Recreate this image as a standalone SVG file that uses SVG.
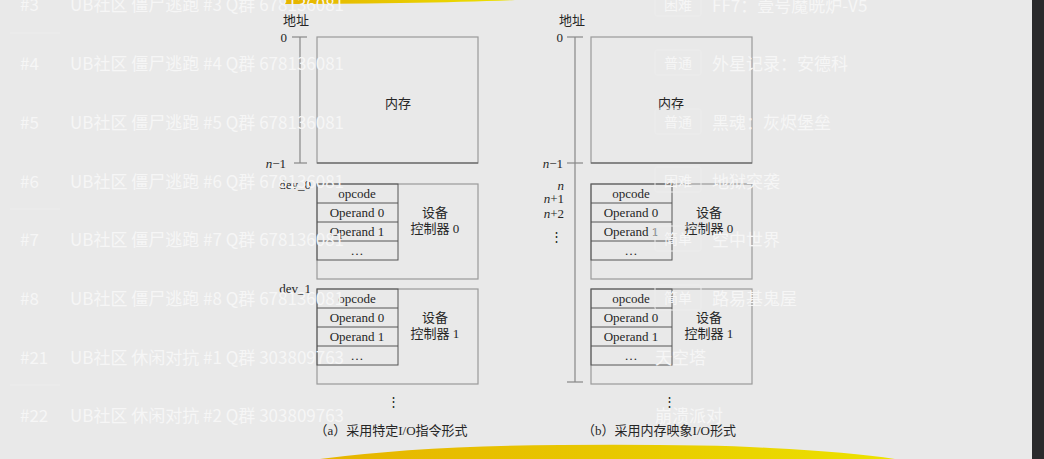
<svg xmlns="http://www.w3.org/2000/svg" width="1044" height="459" viewBox="0 0 1044 459">
<defs>
<style>
.t{font-family:"Liberation Serif","Noto Sans CJK SC",serif;font-size:13px;fill:#262626;dominant-baseline:central;text-anchor:middle}
.r{text-anchor:end}
.box{fill:none;stroke:#9a9a9a;stroke-width:1.2}
.reg{fill:none;stroke:#555;stroke-width:1}
.ax{stroke:#888;stroke-width:1.2;fill:none}
.ov{font-family:"Noto Sans CJK SC","Noto Sans",sans-serif;font-size:17px;fill:#f6f6f6;dominant-baseline:central}
.tag{font-family:"Noto Sans CJK SC","Noto Sans",sans-serif;font-size:14px;fill:#f6f6f6;dominant-baseline:central}
.tb{fill:none;stroke:#ededed;stroke-width:1}
</style>
<linearGradient id="yb" x1="0" x2="1" y1="0" y2="0">
<stop offset="0" stop-color="#e6b400"/>
<stop offset="0.5" stop-color="#e8c800"/>
<stop offset="1" stop-color="#ece200"/>
</linearGradient>
<g id="ctl">
<rect class="box" x="0" y="0" width="161" height="95"/>
<rect class="reg" x="0" y="0" width="81" height="76"/>
<line class="reg" x1="0" y1="19" x2="81" y2="19"/>
<line class="reg" x1="0" y1="38" x2="81" y2="38"/>
<line class="reg" x1="0" y1="57" x2="81" y2="57"/>
<text class="t" x="40" y="9.5">opcode</text>
<text class="t" x="40" y="28.5">Operand 0</text>
<text class="t" x="40" y="47">Operand 1</text>
<text class="t" x="40" y="66">…</text>
<text class="t" x="118" y="28.5">设备</text>
</g>
</defs>
<rect width="1044" height="459" fill="#e9e9e9"/>
<rect x="1032" y="0" width="12" height="459" fill="#2a2a2c"/>
<path d="M285,0 L515,0 Q470,2 400,3 Q330,4 285,4 Z" fill="url(#yb)"/>
<path d="M320,459 Q420,446 560,445 Q700,444 770,448 Q850,452 895,459 Z" fill="url(#yb)"/>

<g id="connectors">
<line class="ax" x1="292" y1="37" x2="307" y2="37"/>
<line class="ax" x1="300" y1="37" x2="300" y2="163"/>
<line class="ax" x1="294" y1="163" x2="307" y2="163"/>
<line class="ax" x1="567" y1="37" x2="583" y2="37"/>
<line class="ax" x1="575" y1="37" x2="575" y2="382"/>
<line class="ax" x1="567" y1="163" x2="583" y2="163"/>
<line class="ax" x1="567" y1="382" x2="583" y2="382"/>
</g>

<g id="diagram-a">
<text class="t" x="296" y="20">地址</text>
<text class="t r" x="287" y="37">0</text>
<text class="t r" x="286" y="163"><tspan font-style="italic">n</tspan>−1</text>
<g id="mem-a">
<rect class="box" x="317" y="37" width="161" height="126"/>
<line x1="317" y1="163" x2="478" y2="163" stroke="#555" stroke-width="1.2"/>
<text class="t" x="398" y="103">内存</text>
</g>
<text class="t r" x="311" y="184">dev_0</text>
<g id="ctl-a0">
<use href="#ctl" x="317" y="184"/>
<text class="t" x="435" y="228">控制器 0</text>
</g>
<text class="t r" x="311" y="288">dev_1</text>
<g id="ctl-a1">
<use href="#ctl" x="317" y="289"/>
<text class="t" x="435" y="333">控制器 1</text>
</g>
<text class="t" x="393" y="401">⋮</text>
<text class="t" x="391" y="430">（a）采用特定I/O指令形式</text>
</g>

<g id="diagram-b">
<text class="t" x="572" y="20">地址</text>
<text class="t r" x="563" y="37">0</text>
<text class="t r" x="563" y="163"><tspan font-style="italic">n</tspan>−1</text>
<text class="t r" x="564" y="185" font-size="12"><tspan font-style="italic">n</tspan></text>
<text class="t r" x="564" y="198" font-size="12"><tspan font-style="italic">n</tspan>+1</text>
<text class="t r" x="564" y="213" font-size="12"><tspan font-style="italic">n</tspan>+2</text>
<text class="t" x="556" y="236">⋮</text>
<g id="mem-b">
<rect class="box" x="591" y="37" width="161" height="126"/>
<line x1="591" y1="163" x2="752" y2="163" stroke="#555" stroke-width="1.2"/>
<text class="t" x="671" y="103">内存</text>
</g>
<g id="ctl-b0">
<use href="#ctl" x="591" y="184"/>
<text class="t" x="709" y="228">控制器 0</text>
</g>
<g id="ctl-b1">
<use href="#ctl" x="591" y="289"/>
<text class="t" x="709" y="333">控制器 1</text>
</g>
<text class="t" x="669" y="401">⋮</text>
<text class="t" x="659" y="430">（b）采用内存映象I/O形式</text>
</g>

<g id="overlay">
<line x1="10" y1="33" x2="60" y2="33" stroke="#ededed"/>
<line x1="10" y1="209" x2="60" y2="209" stroke="#ededed"/>
<line x1="10" y1="385" x2="60" y2="385" stroke="#ededed"/>
<text class="ov" x="20" y="3">#3</text><text class="ov" x="70" y="3">UB社区 僵尸逃跑 #3 Q群 678136081</text>
<text class="ov" x="20" y="62">#4</text><text class="ov" x="70" y="62">UB社区 僵尸逃跑 #4 Q群 678136081</text>
<text class="ov" x="20" y="121">#5</text><text class="ov" x="70" y="121">UB社区 僵尸逃跑 #5 Q群 678136081</text>
<text class="ov" x="20" y="180">#6</text><text class="ov" x="70" y="180">UB社区 僵尸逃跑 #6 Q群 678136081</text>
<text class="ov" x="20" y="238">#7</text><text class="ov" x="70" y="238">UB社区 僵尸逃跑 #7 Q群 678136081</text>
<text class="ov" x="20" y="297">#8</text><text class="ov" x="70" y="297">UB社区 僵尸逃跑 #8 Q群 678136081</text>
<text class="ov" x="20" y="356">#21</text><text class="ov" x="70" y="356">UB社区 休闲对抗 #1 Q群 303809763</text>
<text class="ov" x="20" y="414">#22</text><text class="ov" x="70" y="414">UB社区 休闲对抗 #2 Q群 303809763</text>
<rect class="tb" x="655" y="-8" width="46" height="24" rx="2"/>
<text class="tag" x="664" y="4">困难</text><text class="ov" x="712" y="4">FF7：壹号魔晄炉-V5</text>
<rect class="tb" x="655" y="50" width="46" height="25" rx="2"/>
<text class="tag" x="664" y="62">普通</text><text class="ov" x="712" y="62">外星记录：安德科</text>
<rect class="tb" x="655" y="109" width="46" height="25" rx="2"/>
<text class="tag" x="664" y="121">普通</text><text class="ov" x="712" y="121">黑魂：灰烬堡垒</text>
<rect class="tb" x="655" y="167" width="46" height="25" rx="2"/>
<text class="tag" x="664" y="180">困难</text><text class="ov" x="712" y="180">地狱突袭</text>
<rect class="tb" x="655" y="226" width="46" height="25" rx="2"/>
<text class="tag" x="664" y="238">简单</text><text class="ov" x="712" y="238">空中世界</text>
<rect class="tb" x="655" y="285" width="46" height="25" rx="2"/>
<text class="tag" x="664" y="297">简单</text><text class="ov" x="712" y="297">路易基鬼屋</text>
<text class="ov" x="655" y="356">天空塔</text>
<text class="ov" x="655" y="414">崩溃派对</text>
</g>
</svg>
